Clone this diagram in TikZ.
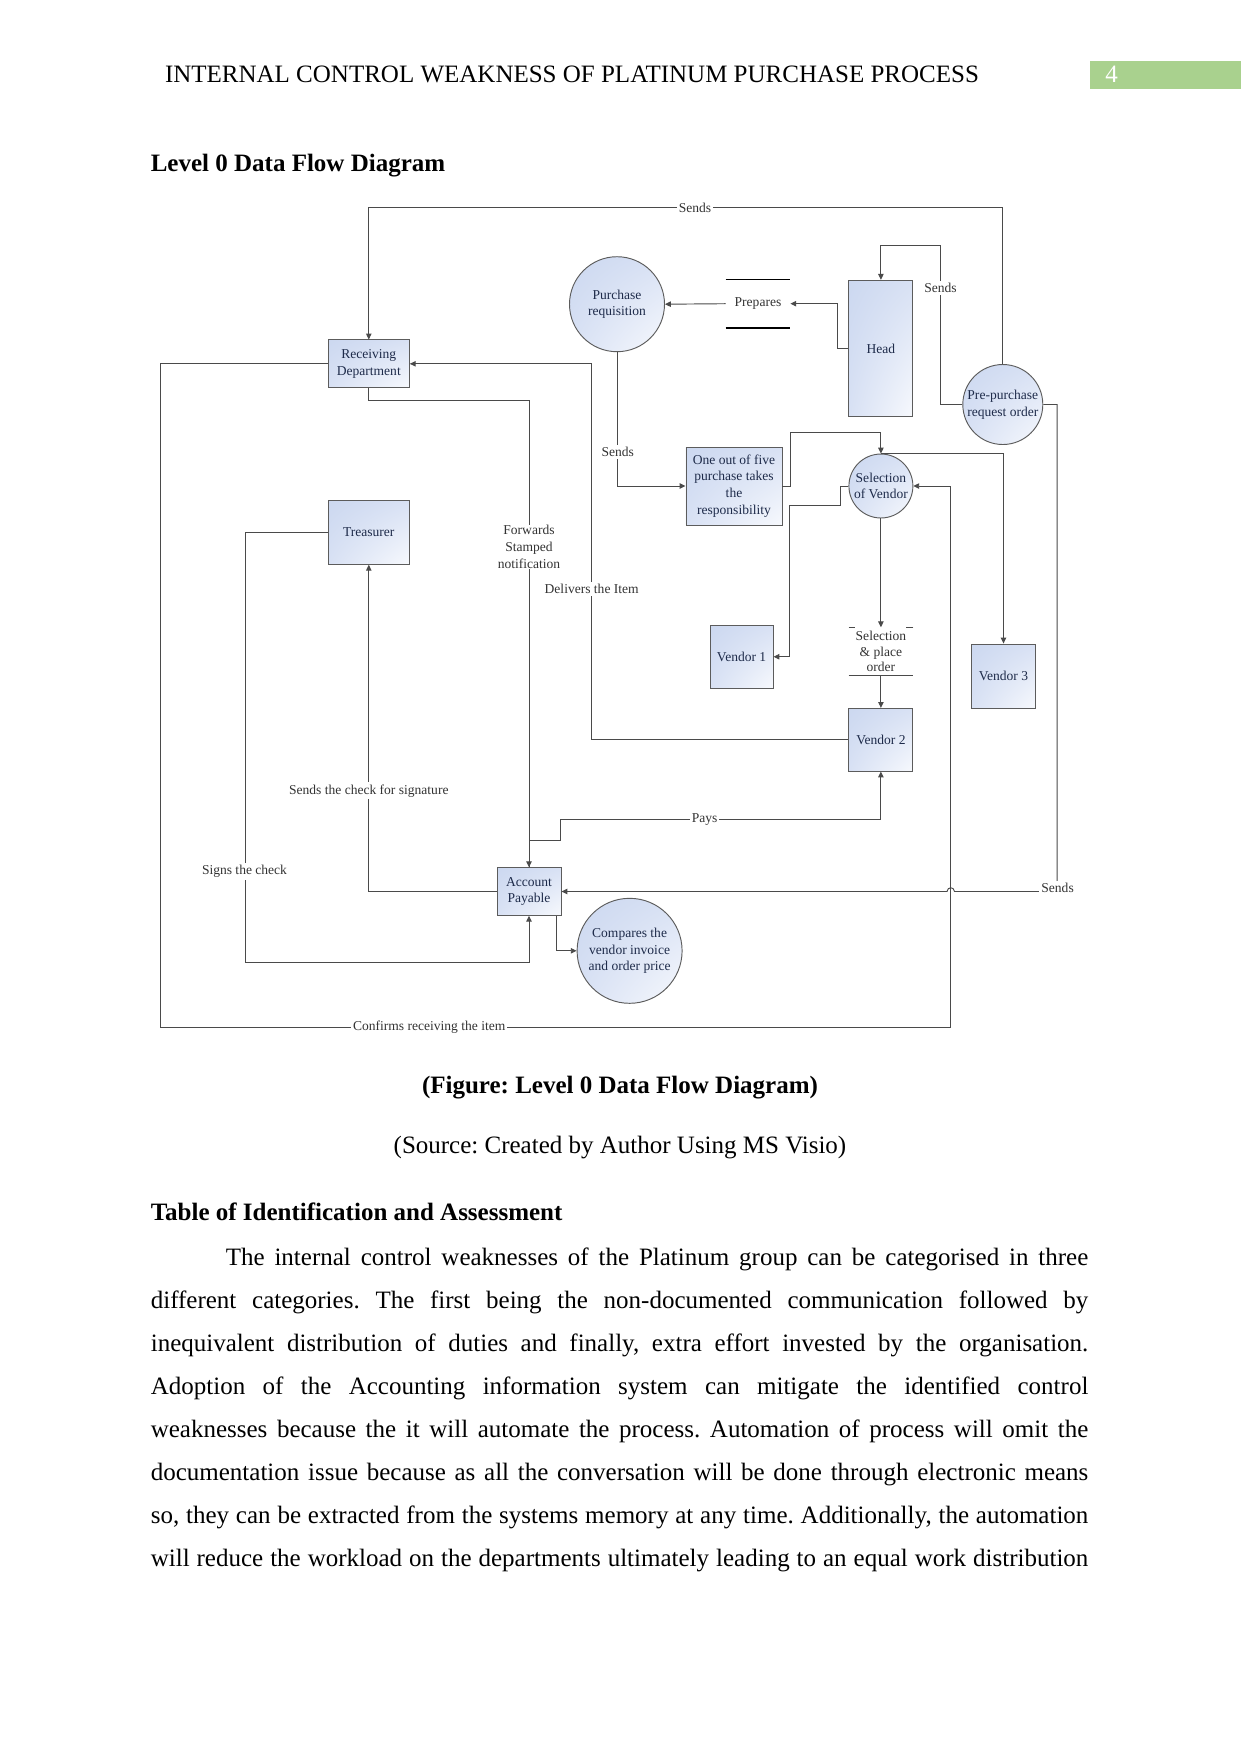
\documentclass[tikz,border=0pt]{standalone}
\usepackage{fontspec}
\setmainfont{Liberation Serif}
\usetikzlibrary{arrows.meta,shadings}
\definecolor{linec}{HTML}{4A4A4A}
\definecolor{boxb}{HTML}{5C5C5C}
\definecolor{boxt}{HTML}{1E2B4A}
\definecolor{lblc}{HTML}{333333}
\definecolor{fillA}{HTML}{CCD8F0}
\definecolor{fillB}{HTML}{D8E1F4}
\definecolor{fillC}{HTML}{F7F9FD}
\definecolor{pgnum}{HTML}{A9D18E}
\newcommand{\diagfont}{\fontsize{6.5}{8}\selectfont}
\newcommand{\bodyfont}{\fontsize{12}{14}\selectfont\frenchspacing}
\tikzset{
  flow/.style={draw=linec, line width=0.45pt, -{Triangle[length=2.8pt,width=2.6pt]}},
  plain/.style={draw=linec, line width=0.45pt},
  shadefill/.style={upper left=fillA, upper right=fillB, lower left=fillB, lower right=fillC},
  entity/.style={rectangle, draw=boxb, line width=0.45pt, shadefill, text=boxt, font=\diagfont, align=center, inner sep=1pt},
  proc/.style={circle, draw=boxb, line width=0.45pt, shadefill, text=boxt, font=\diagfont, align=center, inner sep=0pt},
  store/.style={rectangle, text=lblc, font=\diagfont, align=center, inner sep=0pt},
  lbl/.style={fill=white, text=lblc, font=\diagfont, align=center, inner sep=1pt},
  body/.style={font=\bodyfont, inner sep=0pt, anchor=base west},
}
\begin{document}
\begin{tikzpicture}[x=0.48pt,y=-0.48pt]
\useasboundingbox (0,0) rectangle (1241,1754);
\fill[white] (0,0) rectangle (1241,1754);

% page header
\node[body] (hdr) at (164.6,82.7) {INTERNAL CONTROL WEAKNESS OF PLATINUM PURCHASE PROCESS};
\fill[pgnum] (1090,60.7) rectangle (1241,89.3);
\node[font=\bodyfont, text=white, inner sep=0pt, anchor=base] (pgn) at (1111.5,82.3) {4};
\node[body, font=\bodyfont\bfseries] (ttl) at (150.4,171.7) {Level 0 Data Flow Diagram};

% ---------- diagram nodes ----------
\node[entity, minimum width=38.9pt, minimum height=22.9pt] (rd) at (368.8,363.8) {Receiving\\Department};
\node[entity, minimum width=38.9pt, minimum height=30.7pt] (tr) at (368.8,532.3) {Treasurer};
\node[entity, minimum width=30.7pt, minimum height=22.85pt] (ap) at (529,891.5) {Account\\Payable};
\node[proc, minimum size=45.6pt] (pr) at (617,304.2) {Purchase\\requisition};
\node[store, minimum width=30.7pt, minimum height=22.9pt] (prep) at (758,303.7) {Prepares};
\node[entity, minimum width=30.7pt, minimum height=65.5pt] (head) at (880.9,348.5) {Head};
\node[proc, minimum size=38.4pt] (pp) at (1002.8,404.5) {Pre-purchase\\request order};
\node[entity, minimum width=46.1pt, minimum height=37.4pt, inner sep=0pt] (one) at (734,486) {One out of five\\purchase takes\\the\\responsibility};
\node[proc, minimum size=30.7pt] (sov) at (880.9,486) {Selection\\of Vendor};
\node[entity, minimum width=30.2pt, minimum height=30.1pt] (v1) at (741.6,656.7) {Vendor 1};
\node[store, minimum width=30.7pt, minimum height=22.85pt, font=\fontsize{6.5}{7.5}\selectfont] (spo) at (880.9,651.5) {Selection\\\& place\\order};
\node[entity, minimum width=30.7pt, minimum height=30.1pt] (v2) at (880.9,739.7) {Vendor 2};
\node[entity, minimum width=31pt, minimum height=30.7pt] (v3) at (1003.5,676) {Vendor 3};
\node[proc, minimum size=50.4pt] (cmp) at (629.6,950.8) {Compares the\\vendor invoice\\and order price};

% data-store lines
\draw[black, line width=0.6pt] (prep.north west) -- (prep.north east);
\draw[black, line width=0.6pt] (prep.south west) -- (prep.south east);
\draw[plain] (spo.north west) -- ++(6,0);
\draw[plain] (spo.north east) -- ++(-7,0);
\draw[plain] (spo.south west) -- (spo.south east);

% ---------- connectors ----------
\draw[flow] (pp.north) -- (1002.8,207.5) -| (rd.north);
\draw[flow] (head.west) -- (837.2,348.5) |- (prep.east);
\draw[flow] (prep.west) -- (pr.east);
\draw[flow] (pp.west) -| (940.5,245) -| (head.north);
\draw[flow] (pr.south) |- (one.west);
\draw[flow] (one.east) -- (790.3,486) |- (880.9,432.3) -- (sov.north);
\draw[flow] (sov.west) -- (840.6,486) |- (789.7,505) |- (v1.east);
\draw[flow] (sov.north) -| (v3.north);
\draw[flow] (sov.south) -- (spo.north);
\draw[flow] (spo.south) -- (v2.north);
\draw[flow] (v2.west) -| (591.7,363.8) -- (rd.east);
\draw[flow] (rd.south) |- (529,400.3) -- (ap.north);
\draw[flow] (ap.west) -| (tr.south);
\draw[flow] (tr.west) -| (245.3,962.7) -| (ap.south);
\draw[flow] (ap.north) -- (529,840.7) -| (560.7,819.3) -| (v2.south);
\draw[flow] ([xshift=-2.2pt]ap.south east) |- (cmp.west);
\draw[flow] (pp.east) -| (1057.2,891.5) -- (954.5,891.5) .. controls (954,886.5) and (947.5,886.5) .. (947,891.5) -- (ap.east);
\draw[flow] (rd.west) -| (160.7,1027.3) -| (950.8,486) -- (sov.east);

% ---------- connector labels ----------
\node[lbl] (l1) at (695,207.5) {Sends};
\node[lbl] (l2) at (940.5,288.3) {Sends};
\node[lbl] (l3) at (617.8,452.3) {Sends};
\node[lbl] (l4) at (591.7,588.7) {Delivers the Item};
\node[lbl, inner sep=0.5pt] (l5) at (529,547) {Forwards\\Stamped\\notification};
\node[lbl] (l6) at (368.8,790.7) {Sends the check for signature};
\node[lbl] (l7) at (244.5,871.3) {Signs the check};
\node[lbl] (l8) at (704.6,819.3) {Pays};
\node[lbl] (l9) at (1057.6,887.7) {Sends};
\node[lbl] (l10) at (429.2,1027.3) {Confirms receiving the item};

% ---------- text below ----------
\node[font=\bodyfont\bfseries, inner sep=0pt, anchor=base] (cap) at (620,1093.3) {(Figure: Level 0 Data Flow Diagram)};
\node[font=\bodyfont, inner sep=0pt, anchor=base] (src) at (620,1153.3) {(Source: Created by Author Using MS Visio)};
\node[body, font=\bodyfont\bfseries] (tbl) at (150.4,1220) {Table of Identification and Assessment};

\node[body] (b1) at (225.4,1265) {\makebox[414pt][s]{The internal control weaknesses of the Platinum group can be categorised in three}};
\node[body] (b2) at (150.4,1308.1) {\makebox[450pt][s]{different categories. The first being the non-documented communication followed by}};
\node[body] (b3) at (150.4,1351.2) {\makebox[450pt][s]{inequivalent distribution of duties and finally, extra effort invested by the organisation.}};
\node[body] (b4) at (150.4,1394.3) {\makebox[450pt][s]{Adoption of the Accounting information system can mitigate the identified control}};
\node[body] (b5) at (150.4,1437.4) {\makebox[450pt][s]{weaknesses because the it will automate the process. Automation of process will omit the}};
\node[body] (b6) at (150.4,1480.5) {\makebox[450pt][s]{documentation issue because as all the conversation will be done through electronic means}};
\node[body] (b7) at (150.4,1523.6) {\makebox[450pt][s]{so, they can be extracted from the systems memory at any time. Additionally, the automation}};
\node[body] (b8) at (150.4,1566.7) {\makebox[450pt][s]{will reduce the workload on the departments ultimately leading to an equal work distribution}};
\end{tikzpicture}
\end{document}
